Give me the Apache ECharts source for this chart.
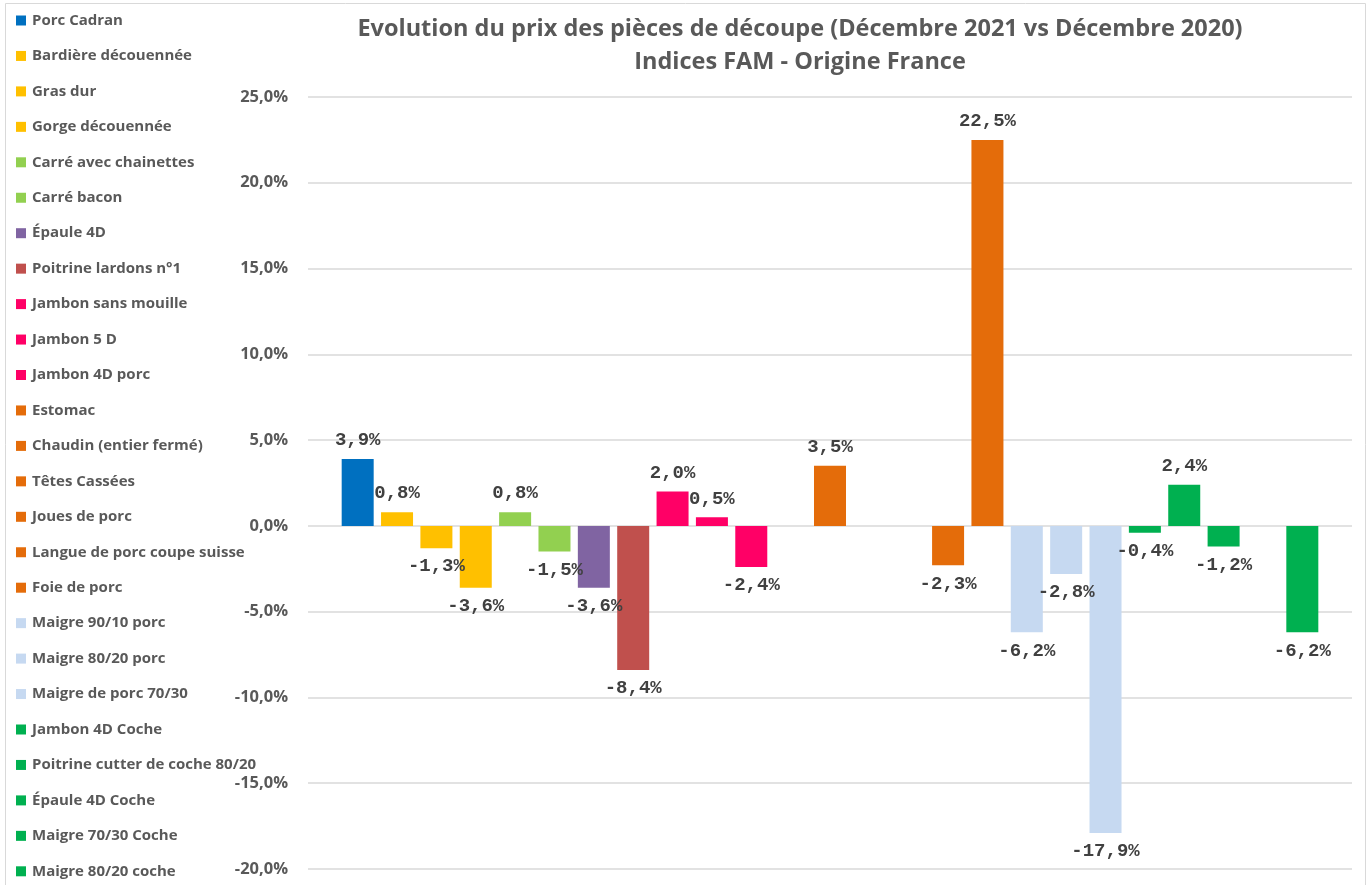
<!DOCTYPE html>
<html>
<head>
<meta charset="utf-8">
<script src="https://cdn.jsdelivr.net/npm/echarts@6/dist/echarts.min.js"></script>
<style>
  html, body { margin: 0; padding: 0; background: #fff; }
  #chart { width: 1369px; height: 885px; }
</style>
</head>
<body>
<div id="chart"></div>
<script>
var pieces = [
    'Porc Cadran', 'Bardière découennée', 'Gras dur', 'Gorge découennée',
    'Carré avec chainettes', 'Carré bacon', 'Épaule 4D', 'Poitrine lardons n°1',
    'Jambon sans mouille', 'Jambon 5 D', 'Jambon 4D porc', 'Estomac',
    'Chaudin (entier fermé)', 'Têtes Cassées', 'Joues de porc',
    'Langue de porc coupe suisse', 'Foie de porc', 'Maigre 90/10 porc',
    'Maigre 80/20 porc', 'Maigre de porc 70/30', 'Jambon 4D Coche',
    'Poitrine cutter de coche 80/20', 'Épaule 4D Coche', 'Maigre 70/30 Coche',
    'Maigre 80/20 coche'
];

var evolution = [
    3.9, 0.8, -1.3, -3.6,
    0.8, -1.5, -3.6, -8.4,
    2.0, 0.5, -2.4, null,
    3.5, null, null,
    -2.3, 22.5, -6.2,
    -2.8, -17.9, -0.4,
    2.4, -1.2, null,
    -6.2
];

var couleurs = [
    '#0070C0', '#FFC000', '#FFC000', '#FFC000',
    '#92D050', '#92D050', '#8064A2', '#C0504D',
    '#FF0066', '#FF0066', '#FF0066', '#E46C0A',
    '#E46C0A', '#E46C0A', '#E46C0A',
    '#E46C0A', '#E46C0A', '#C6D9F1',
    '#C6D9F1', '#C6D9F1', '#00B050',
    '#00B050', '#00B050', '#00B050',
    '#00B050'
];

var yTicks = { min: -20, max: 25, interval: 5 };

function pct(v) {
    return v.toFixed(1).replace('.', ',') + '%';
}

var series = [];
for (var i = 0; i < pieces.length; i++) {
    var v = evolution[i];
    series.push({
        name: pieces[i],
        type: 'bar',
        barWidth: 32,
        barGap: '23%',
        data: [v],
        itemStyle: { color: couleurs[i] },
        label: {
            show: v !== null,
            position: v !== null && v < 0 ? 'bottom' : 'top',
            distance: 9,
            formatter: function (p) { return pct(p.value); },
            fontFamily: 'Liberation Mono',
            fontWeight: 'bold',
            fontSize: 19,
            color: '#404040'
        }
    });
}

echarts.init(document.getElementById('chart')).setOption({
    animation: false,
    title: {
        text: 'Evolution du prix des pièces de découpe (Décembre 2021 vs Décembre 2020)\nIndices FAM - Origine France',
        left: 800,
        top: 13,
        padding: 0,
        textAlign: 'center',
        textStyle: {
            fontFamily: 'Open Sans',
            fontWeight: 'bold',
            fontSize: 23.5,
            lineHeight: 33,
            color: '#595959'
        }
    },
    graphic: [{
        type: 'rect',
        shape: { x: 5.5, y: 3.5, width: 1360, height: 900 },
        style: { fill: 'none', stroke: '#D9D9D9', lineWidth: 1 },
        silent: true
    }],
    legend: {
        orient: 'vertical',
        left: 16,
        top: 13,
        padding: 0,
        icon: 'rect',
        itemWidth: 10,
        itemHeight: 10,
        itemGap: 20.45,
        data: pieces,
        textStyle: {
            fontFamily: 'Open Sans',
            fontWeight: 'bold',
            fontSize: 15,
            lineHeight: 14,
            padding: [0, 0, 0, 1],
            color: '#595959'
        }
    },
    grid: {
        left: 308,
        right: 17,
        top: 97,
        bottom: 16,
        containLabel: false
    },
    xAxis: {
        type: 'category',
        data: [''],
        axisLine: { show: false },
        axisTick: { show: false },
        axisLabel: { show: false }
    },
    yAxis: {
        type: 'value',
        min: yTicks.min,
        max: yTicks.max,
        interval: yTicks.interval,
        axisLine: { show: false },
        axisTick: { show: false },
        axisLabel: {
            margin: 20,
            formatter: function (v) { return pct(v); },
            fontFamily: 'Open Sans',
            fontWeight: 'bold',
            fontSize: 16.5,
            color: '#595959'
        },
        splitLine: {
            lineStyle: { color: '#D9D9D9', width: 1.5 }
        }
    },
    series: series
});
</script>
</body>
</html>
